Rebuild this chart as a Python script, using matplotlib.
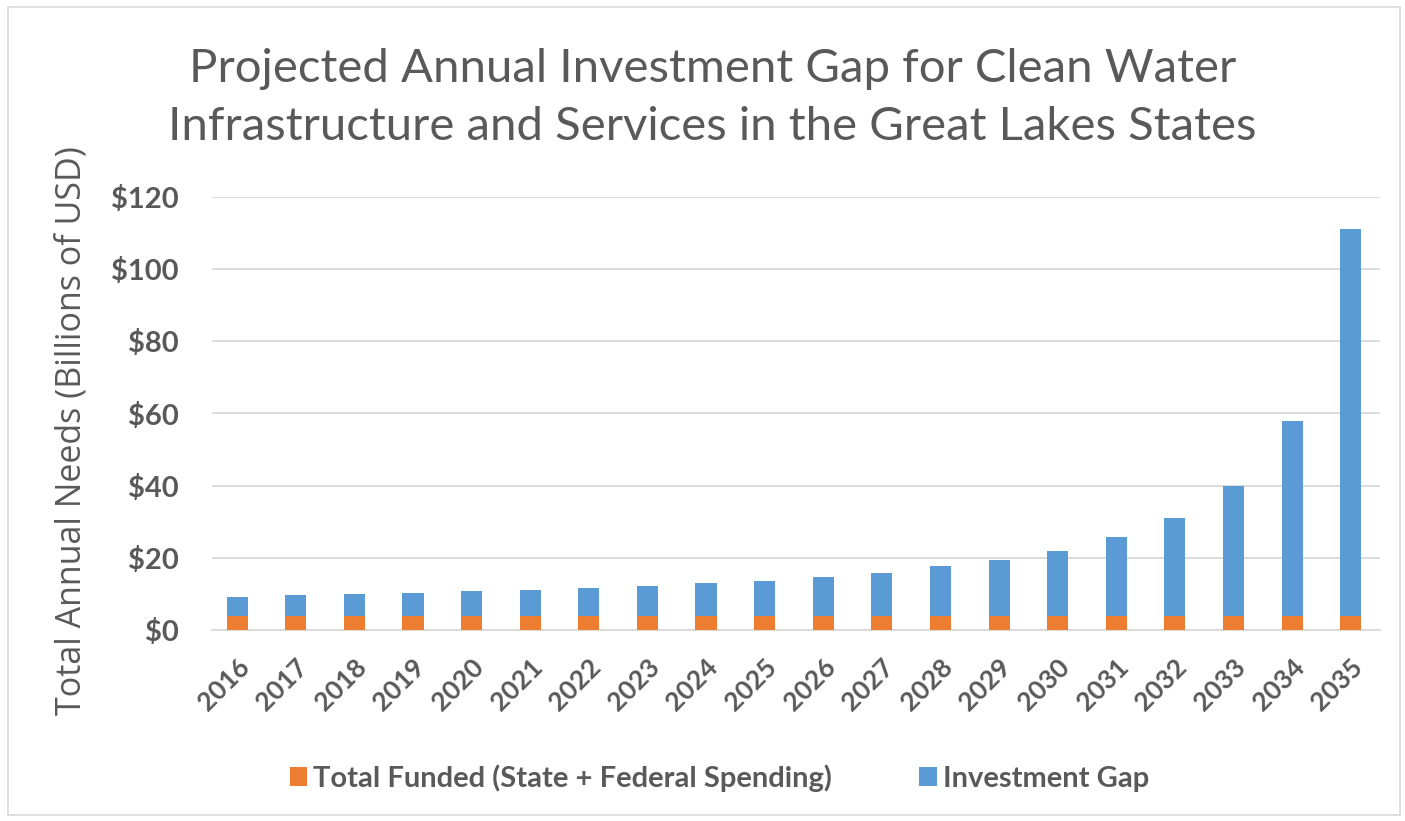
import matplotlib
matplotlib.use("Agg")
import matplotlib.pyplot as plt
import matplotlib.transforms as mtransforms
from matplotlib.patches import Rectangle

years = [str(y) for y in range(2016, 2036)]
# total annual needs (billions USD)
total_needs = [9.2, 9.6, 10.1, 10.3, 10.7, 11.2, 11.7, 12.2, 13.0, 13.7,
               14.7, 15.9, 17.6, 19.3, 22.0, 25.7, 31.0, 39.9, 57.8, 111.0]
funded = [3.8] * 20
gap = [t - f for t, f in zip(total_needs, funded)]

ORANGE = "#ED7D31"
BLUE = "#5B9BD5"
GREY = "#595959"

plt.rcParams["font.family"] = ["Lato", "DejaVu Sans"]

fig = plt.figure(figsize=(14.05, 8.21), dpi=100)
ax = fig.add_axes([212 / 1405, 1 - 630 / 821, (1380 - 212) / 1405, (630 - 197) / 821])

x = range(len(years))
ax.bar(x, funded, width=0.36, color=ORANGE, label="Total Funded (State + Federal Spending)", zorder=3)
ax.bar(x, gap, width=0.36, bottom=funded, color=BLUE, label="Investment Gap", zorder=3)

ax.set_ylim(0, 120)
ax.set_xlim(-0.43, 19.5)
ax.set_yticks(range(0, 121, 20))
ax.set_yticklabels([f"${v}" for v in range(0, 121, 20)], fontsize=21, fontweight="bold", color=GREY)
ax.set_xticks(list(x))
ax.set_xticklabels(years, rotation=45, ha="right", va="center", rotation_mode="anchor",
                   fontsize=19, fontweight="bold", color=GREY)
ax.tick_params(length=0)
ax.tick_params(axis="y", pad=24)
ax.tick_params(axis="x", pad=24)
# nudge the rotated year labels a little to the right, like the original
shift = mtransforms.ScaledTranslation(8 / 100, 0, fig.dpi_scale_trans)
for lab in ax.get_xticklabels():
    lab.set_transform(lab.get_transform() + shift)

ax.grid(axis="y", color="#D9D9D9", linewidth=1.3, zorder=0)
for s in ["top", "right", "left"]:
    ax.spines[s].set_visible(False)
ax.spines["bottom"].set_color("#D9D9D9")
ax.spines["bottom"].set_linewidth(1.3)

ax.set_ylabel("Total Annual Needs (Billions of USD)", fontsize=24.5, color=GREY,
              family=["Open Sans", "DejaVu Sans"])
ax.yaxis.set_label_coords(-0.106, 0.46)

fig.text(0.507, 1 - 98 / 821,
         "Projected Annual Investment Gap for Clean Water\nInfrastructure and Services in the Great Lakes States",
         ha="center", va="center", fontsize=34, color=GREY, linespacing=1.5)

handles, labels = ax.get_legend_handles_labels()
leg = fig.legend(handles, labels, loc="center", bbox_to_anchor=(0.512, 1 - 778 / 821), ncol=2,
                 frameon=False, handlelength=0.6, handleheight=0.6, handletextpad=0.2,
                 columnspacing=3.0, prop={"size": 21, "weight": "bold"})
for t in leg.get_texts():
    t.set_color(GREY)

fig.patches.append(Rectangle((8 / 1405, 6 / 821), 1392 / 1405, 808 / 821, transform=fig.transFigure,
                             fill=False, edgecolor="#D9D9D9", linewidth=1.2))

fig.savefig("out.png", dpi=100)
